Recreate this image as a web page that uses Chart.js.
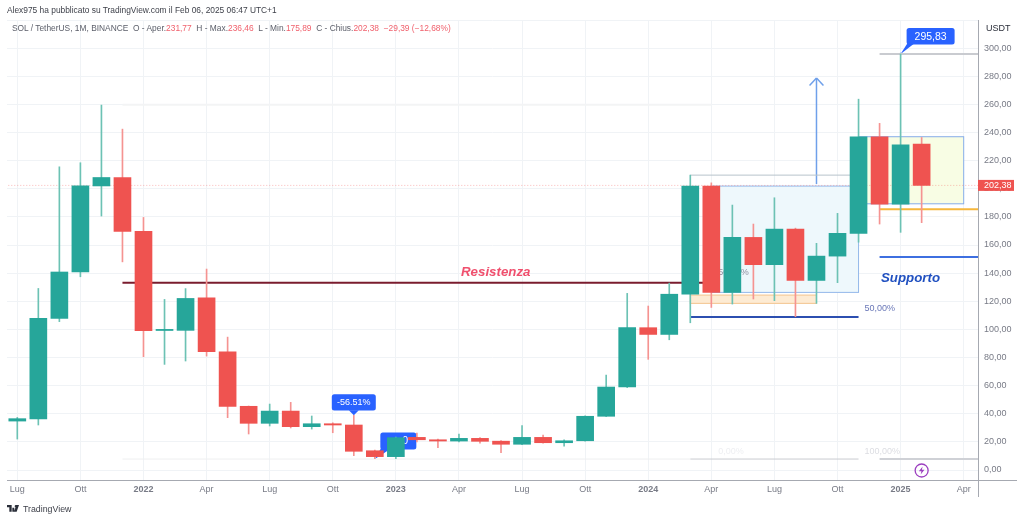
<!DOCTYPE html>
<html>
<head>
<meta charset="utf-8">
<title>SOL / TetherUS</title>
<script src="https://cdn.jsdelivr.net/npm/chart.js@4/dist/chart.umd.js"></script>
<style>
  html, body { margin: 0; padding: 0; background: #fff; }
  #wrap { position: relative; width: 1024px; height: 521px; overflow: hidden; font-family: "Liberation Sans", sans-serif; }
  canvas { position: absolute; left: 0; top: 0; }
  .txt { position: absolute; white-space: pre; line-height: 12px; }
  #pub { left: 7px; top: 4px; font-size: 8.4px; color: #3c3f48; }
  #legend { left: 12px; top: 22px; font-size: 8.4px; color: #5d606b; }
  #legend b { font-weight: normal; color: #f0616d; }
  #brand { left: 23px; top: 503px; font-size: 8.8px; color: #3c3f48; }
  #logo { position: absolute; left: 7px; top: 505px; }
</style>
</head>
<body>
<div id="wrap">
  <canvas id="chart" width="1024" height="521"></canvas>
  <div class="txt" id="pub">Alex975 ha pubblicato su TradingView.com il Feb 06, 2025 06:47 UTC+1</div>
  <div class="txt" id="legend">SOL / TetherUS, 1M, BINANCE  O - Aper.<b>231,77</b>  H - Max.<b>236,46</b>  L - Min.<b>175,89</b>  C - Chius.<b>202,38</b>  <b>−29,39 (−12,68%)</b></div>
  <svg id="logo" width="12" height="8" viewBox="0 0 36 24"><path fill="#2a2e39" d="M0 0h14v20H7V7H0zM27 0a4 4 0 1 1 0 8 4 4 0 0 1 0-8zM21 20l7-20h8l-7 20z M16 8h6v12h-6z"/></svg>
  <div class="txt" id="brand">TradingView</div>
</div>
<script>
// monthly candles, Jul 2021 -> Feb 2025
const months = ["2021-07","2021-08","2021-09","2021-10","2021-11","2021-12",
  "2022-01","2022-02","2022-03","2022-04","2022-05","2022-06","2022-07","2022-08","2022-09","2022-10","2022-11","2022-12",
  "2023-01","2023-02","2023-03","2023-04","2023-05","2023-06","2023-07","2023-08","2023-09","2023-10","2023-11","2023-12",
  "2024-01","2024-02","2024-03","2024-04","2024-05","2024-06","2024-07","2024-08","2024-09","2024-10","2024-11","2024-12",
  "2025-01","2025-02"];
const opens = [34.8,36.3,107.8,140.8,202,208,
  169.7,99.2,99.3,122.5,84.1,45.3,33.2,41.9,30.8,32.9,32,13.7,
  9.5,23.2,21.5,20.6,22.5,20.5,18.3,23.2,19.4,20.8,38.2,59,
  101.2,96.4,125,201.9,126.3,165.4,146,171.3,134.8,152.1,168.3,237,
  189,231.77];
const highs = [37.4,129.1,215.6,218.5,259.5,242.4,
  179.6,121.3,129,142.9,94.5,45.5,46.9,48.1,38.4,33.6,38.9,14.2,
  23.4,26.3,22,25.6,23,21,31.5,24.9,21.5,38.5,67.5,125.6,
  116.6,132.9,209.7,204.2,188.4,174.9,193.6,172,161.2,182.5,263.7,246.5,
  295.83,236.46];
const lows = [22,32,105.5,137.4,180.6,148,
  80.6,75.1,77.5,81,37.2,25.6,31.3,29.9,29.1,26.5,10.2,8,
  8,20,15.9,20,19,12.3,18,19,17,20.5,38,58.6,
  78.7,92.6,104.7,115.6,118,121.6,120.4,109,118.5,133.2,162,174.9,
  169,175.89];
const closes = [36.5,107.8,140.8,202,208,169.7,
  99,100,122,84.1,45.3,33.2,41.9,30.8,32.9,32,13.3,9.5,
  23,21.5,20.6,22.5,20.4,18.3,23.2,19.4,20.8,38.2,59,101.2,
  96.4,125,201.9,126.3,165.4,146,171.3,134.8,152.1,168.3,237,189,
  231.3,202.38];

const xTickPositions = [0,3,6,9,12,15,18,21,24,27,30,33,36,39,42,45];
const xTickLabels = ["Lug","Ott","2022","Apr","Lug","Ott","2023","Apr","Lug","Ott","2024","Apr","Lug","Ott","2025","Apr"];
const yTickValues = [0,20,40,60,80,100,120,140,160,180,200,220,240,260,280,300];

// levels of the drawings on the chart
const lastPrice = 202.38;
const resistance = 133.2;
const fib50 = 108.8;
const fibTop = 209.7;
const fib100 = 7.8;
const oldHighLevel = 259.8;
const athLevel = 295.83;
const orangeLevel = 185.5;
const supportLevel = 151.4;
const consolidationBox = [33, 40, 126.3, 201.9];
const orangeBox = [32, 38, 118.5, 124.4];
const yellowBox = [40, 45, 189.3, 237];
const arrowX = [38, 38];
const arrowY = [203.3, 278.7];
const arrowHeadX = [37.67, 38, 38.33];
const arrowHeadY = [273.4, 278.7, 273.4];

const GREEN = "#26a69a", RED = "#ef5350";
const GRID = "#f0f3f6", AXIS_TEXT = "#787b86";
const isUp = i => closes[i] >= opens[i];
const FONT = '"Liberation Sans", sans-serif';

function seg(x0, x1, y0, y1, color, width, dash) {
  return {
    type: "line", order: 3,
    data: [{x: x0, y: y0}, {x: x1, y: y1}],
    borderColor: color, borderWidth: width, borderDash: dash || [],
    pointRadius: 0, tension: 0
  };
}

function callout(ctx, ax, ay, l, r, t, b, text, size, textX) {
  ctx.fillStyle = "#2962ff";
  ctx.beginPath();
  ctx.roundRect(ax + l, ay + t, r - l, b - t, 2.5);
  ctx.fill();
  ctx.font = size + "px " + FONT;
  ctx.fillStyle = "#fff";
  ctx.textAlign = "center";
  ctx.textBaseline = "middle";
  ctx.fillText(text, ax + (textX === undefined ? (l + r) / 2 : textX), ay + (t + b) / 2 + 0.5);
}

const drawingsPlugin = {
  id: "drawings",
  beforeDatasetsDraw(chart) {
    const {ctx, scales: {x, y}, chartArea} = chart;
    const rect = (b, fill, stroke) => {
      const x0 = x.getPixelForValue(b[0]), x1 = x.getPixelForValue(b[1]);
      const y0 = y.getPixelForValue(b[3]), y1 = y.getPixelForValue(b[2]);
      ctx.fillStyle = fill;
      ctx.fillRect(x0, y0, x1 - x0, y1 - y0);
      ctx.strokeStyle = stroke;
      ctx.lineWidth = 1;
      ctx.strokeRect(x0, y0, x1 - x0, y1 - y0);
    };
    ctx.save();
    ctx.strokeStyle = GRID;
    ctx.lineWidth = 1;
    ctx.beginPath();
    ctx.moveTo(chartArea.left, chartArea.top + 0.5);
    ctx.lineTo(chartArea.right, chartArea.top + 0.5);
    ctx.stroke();

    rect(consolidationBox, "#eef8fc", "#93b8ea");
    rect(orangeBox, "#fdebd3", "#f3c48e");
    rect(yellowBox, "#f8fde4", "#86ade9");

    ctx.textBaseline = "middle";
    ctx.textAlign = "left";
    ctx.font = "9px " + FONT;
    ctx.fillStyle = "#8d90a0";
    ctx.fillText("50,00%", x.getPixelForValue(33) + 7, y.getPixelForValue(140.2));
    ctx.fillStyle = "#6a78b8";
    ctx.fillText("50,00%", x.getPixelForValue(40) + 6, y.getPixelForValue(114.5));
    ctx.fillStyle = "#dcdde2";
    ctx.fillText("100,00%", x.getPixelForValue(40) + 6, y.getPixelForValue(13.5));
    ctx.fillStyle = "#eeeff2";
    ctx.fillText("0,00%", x.getPixelForValue(33) + 7, y.getPixelForValue(13.5));

    ctx.font = "italic bold 13.3px " + FONT;
    ctx.fillStyle = "#f0506e";
    ctx.fillText("Resistenza", 461, y.getPixelForValue(140.5));
    ctx.fillStyle = "#2050c0";
    ctx.fillText("Supporto", 881, y.getPixelForValue(136.5));

    // price callouts
    const ax1 = x.getPixelForValue(42), ay1 = y.getPixelForValue(athLevel);
    ctx.fillStyle = "#2962ff";
    ctx.beginPath();
    ctx.moveTo(ax1, ay1); ctx.lineTo(ax1 + 7, ay1 - 11); ctx.lineTo(ax1 + 13, ay1 - 10); ctx.closePath(); ctx.fill();
    callout(ctx, ax1, ay1, 6, 54, -26, -9.5, "295,83", 10.5);
    ctx.fillStyle = "#2962ff";
    ctx.beginPath(); ctx.arc(ax1, ay1, 1.2, 0, Math.PI * 2); ctx.fill();

    const ax2 = x.getPixelForValue(16), ay2 = y.getPixelForValue(38.9);
    ctx.fillStyle = "#2962ff";
    ctx.beginPath();
    ctx.moveTo(ax2, ay2); ctx.lineTo(ax2 - 5, ay2 - 5); ctx.lineTo(ax2 + 5, ay2 - 5); ctx.closePath(); ctx.fill();
    callout(ctx, ax2, ay2, -22, 22, -21, -4.7, "-56.51%", 9);

    const ax3 = x.getPixelForValue(17), ay3 = y.getPixelForValue(fib100);
    ctx.fillStyle = "#2962ff";
    ctx.beginPath();
    ctx.moveTo(ax3, ay3); ctx.lineTo(ax3 + 8, ay3 - 14); ctx.lineTo(ax3 + 14, ay3 - 9); ctx.closePath(); ctx.fill();
    callout(ctx, ax3, ay3, 5.5, 41.5, -26.5, -9.5, "0", 10, 30.5);
    ctx.restore();
  },
  afterDraw(chart) {
    const {ctx, scales: {x, y}, chartArea} = chart;
    ctx.save();
    // axis lines run past the plot area
    ctx.strokeStyle = "#a6a9b1";
    ctx.lineWidth = 1;
    ctx.beginPath();
    ctx.moveTo(chartArea.left, chartArea.bottom + 0.5);
    ctx.lineTo(1017, chartArea.bottom + 0.5);
    ctx.moveTo(chartArea.right + 0.5, chartArea.top);
    ctx.lineTo(chartArea.right + 0.5, 497);
    ctx.stroke();

    ctx.font = "9px " + FONT;
    ctx.fillStyle = "#2a2e39";
    ctx.textAlign = "left";
    ctx.textBaseline = "middle";
    ctx.fillText("USDT", 986, 29);

    const py = y.getPixelForValue(lastPrice);
    ctx.fillStyle = RED;
    ctx.fillRect(chartArea.right, py - 5.5, 36, 11);
    ctx.fillStyle = "#fff";
    ctx.fillText(lastPrice.toFixed(2).replace(".", ","), 984, py + 0.5);

    // lightning marker near the zero line
    const mx = x.getPixelForValue(43), my = y.getPixelForValue(0) + 0.5;
    ctx.strokeStyle = "#9c3fc0";
    ctx.lineWidth = 1.3;
    ctx.beginPath();
    ctx.arc(mx, my, 6.5, 0, Math.PI * 2);
    ctx.stroke();
    ctx.fillStyle = "#9c3fc0";
    ctx.beginPath();
    ctx.moveTo(mx + 1, my - 4);
    ctx.lineTo(mx - 2.8, my + 0.8);
    ctx.lineTo(mx - 0.2, my + 0.8);
    ctx.lineTo(mx - 1, my + 4);
    ctx.lineTo(mx + 2.8, my - 0.8);
    ctx.lineTo(mx + 0.2, my - 0.8);
    ctx.closePath();
    ctx.fill();
    ctx.restore();
  }
};

new Chart(document.getElementById("chart"), {
  data: {
    datasets: [
      {
        type: "bar", order: 1,
        data: months.map((m, i) => ({x: i, y: [opens[i], closes[i]]})),
        backgroundColor: months.map((m, i) => isUp(i) ? GREEN : RED),
        barThickness: 17, minBarLength: 1, grouped: false
      },
      {
        type: "bar", order: 2,
        data: months.map((m, i) => ({x: i, y: [lows[i], highs[i]]})),
        backgroundColor: months.map((m, i) => isUp(i) ? "#6cc2b4" : "#f59391"),
        barThickness: 1, grouped: false
      },
      seg(-1, 46, lastPrice, lastPrice, "rgba(239,83,80,0.4)", 1, [1, 2]),
      seg(5, 33, resistance, resistance, "#7a1c2e", 2),
      seg(5, 33, oldHighLevel, oldHighLevel, "#f3f4f5", 2),
      seg(5, 32, fib100, fib100, "#eeeff1", 1),
      seg(32, 40, fib100, fib100, "#c9cbd0", 1),
      seg(32, 40, fib50, fib50, "#2c4fb0", 2),
      seg(32, 39.6, fibTop, fibTop, "#b7c3cb", 1),
      seg(41, 46, fib100, fib100, "#cfd1d6", 2),
      seg(41, 46, athLevel, athLevel, "#c9cbd0", 2),
      seg(41, 46, orangeLevel, orangeLevel, "#f6b73c", 2),
      seg(41, 46, supportLevel, supportLevel, "#3d6fe0", 2),
      seg(arrowX[0], arrowX[1], arrowY[0], arrowY[1], "#6fa0ea", 1.5),
      seg(arrowHeadX[0], arrowHeadX[1], arrowHeadY[0], arrowHeadY[1], "#6fa0ea", 1.5),
      seg(arrowHeadX[1], arrowHeadX[2], arrowHeadY[1], arrowHeadY[2], "#6fa0ea", 1.5)
    ]
  },
  options: {
    responsive: false,
    animation: false,
    devicePixelRatio: 1,
    layout: {padding: {left: 7, top: 20, right: 0, bottom: 0}},
    plugins: {legend: {display: false}, tooltip: {enabled: false}, title: {display: false}},
    scales: {
      x: {
        type: "linear",
        offset: false,
        min: -0.49, max: 45.68,
        grid: {color: GRID, drawTicks: false, offset: false},
        border: {display: false},
        afterBuildTicks: s => { s.ticks = xTickPositions.map(v => ({value: v})); },
        afterFit: s => { s.height = 41; },
        ticks: {
          padding: 4, autoSkip: false, maxRotation: 0, color: AXIS_TEXT,
          callback: v => xTickLabels[xTickPositions.indexOf(v)],
          font: c => {
            const lab = c.tick ? xTickLabels[xTickPositions.indexOf(c.tick.value)] : "";
            return {family: FONT, size: 9, weight: /^\d/.test(lab) ? "bold" : "normal"};
          }
        }
      },
      y: {
        position: "right",
        min: -7.11, max: 320,
        grid: {color: GRID, drawTicks: false},
        border: {display: false},
        afterBuildTicks: s => { s.ticks = yTickValues.map(v => ({value: v})); },
        afterFit: s => { s.width = 46; },
        ticks: {
          padding: 6, color: AXIS_TEXT, align: "center", crossAlign: "near",
          font: {family: FONT, size: 9},
          callback: v => v.toFixed(2).replace(".", ",")
        }
      }
    }
  },
  plugins: [drawingsPlugin]
});
</script>
</body>
</html>
